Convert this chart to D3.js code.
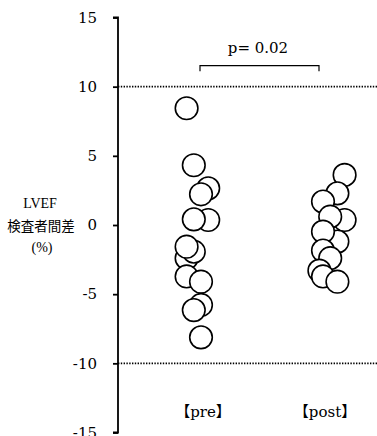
<!DOCTYPE html>
<html>
<head>
<meta charset="utf-8">
<script src="https://cdn.jsdelivr.net/npm/d3@7"></script>
<style>
  body { margin: 0; background: #fff; }
  svg { display: block; }
</style>
</head>
<body>
<div id="chart"></div>
<script>
// groups and tick labels
const groups = ['pre', 'post'];
const groupLabels = ['【pre】', '【post】'];
const yTicks = [15, 10, 5, 0, -5, -10, -15];
const refLines = [10, -10];
const pText = 'p= 0.02';

// values in draw order, with jitter lane for each point
const preValues = [8.44, 4.32, 2.65, 2.22, 0.36, 0.41, -2.4, -1.93, -1.57, -3.72, -4.1, -5.78, -6.15, -8.12];
const preLanes  = [-2, -1, 1, 0, 1, -1, -2, -1, -2, -2, 0, 0, -1, 0];
const postValues = [3.62, 2.29, 1.69, 0.36, 0.6, -1.2, -0.48, -1.85, -2.4, -3.3, -3.72, -4.1];
const postLanes  = [3, 2, 0, 3, 1, 2, 0, 0, 1, -0.5, 0, 2];

const width = 377, height = 436;
const svg = d3.select('#chart').append('svg')
  .attr('width', width)
  .attr('height', height);

const y = d3.scaleLinear().domain([-15, 15]).range([432.5, 17.5]);
const x = d3.scalePoint().domain(groups).range([201, 323]);
const lane = d3.scaleLinear().domain([0, 1]).range([0, 7.2]);
const axisX = 118;

// dotted reference lines
svg.selectAll('.ref')
  .data(refLines)
  .enter()
  .append('line')
  .attr('x1', axisX)
  .attr('x2', width)
  .attr('y1', d => y(d))
  .attr('y2', d => y(d))
  .attr('stroke', '#000')
  .attr('stroke-width', 1.6)
  .attr('stroke-dasharray', '1.4,1.4');

// y axis
const yAxis = d3.axisLeft(y).tickValues(yTicks).tickSize(5).tickPadding(16)
  .tickFormat(d => d);
const gy = svg.append('g')
  .attr('transform', `translate(${axisX},0)`)
  .call(yAxis);
gy.select('.domain').attr('d', `M-5,${y(15)}H0V${y(-15)}H-5`).attr('stroke-width', 1.8);
gy.selectAll('.tick line').attr('stroke-width', 1.8);
gy.selectAll('.tick text')
  .attr('font-family', '"DejaVu Serif", serif')
  .attr('font-size', 15)
  .attr('fill', '#000');

// y axis title
const title = svg.append('text')
  .attr('text-anchor', 'middle')
  .attr('fill', '#000');
title.append('tspan').attr('x', 40).attr('y', 208)
  .attr('font-family', '"Liberation Serif", serif').attr('font-size', 14).text('LVEF');
title.append('tspan').attr('x', 41).attr('y', 231)
  .attr('font-family', '"Noto Sans CJK JP", sans-serif').attr('font-size', 13.5).text('検査者間差');
title.append('tspan').attr('x', 42).attr('y', 252)
  .attr('font-family', '"Liberation Serif", serif').attr('font-size', 14).text('(%)');

// significance bracket
const bY = 65.7;
svg.append('path')
  .attr('d', `M${x('pre') - 1},${bY + 5.5}V${bY}H${x('post') - 4}V${bY + 5.5}`)
  .attr('fill', 'none')
  .attr('stroke', '#000')
  .attr('stroke-width', 1.2);
svg.append('text')
  .attr('x', (x('pre') + x('post')) / 2 - 4)
  .attr('y', 52.5)
  .attr('text-anchor', 'middle')
  .attr('font-family', '"DejaVu Serif", serif')
  .attr('font-size', 15)
  .text(pText);

// points
const points = [];
preValues.forEach((v, i) => points.push({ group: 'pre', value: v, lane: preLanes[i] }));
postValues.forEach((v, i) => points.push({ group: 'post', value: v, lane: postLanes[i] }));

svg.selectAll('circle')
  .data(points)
  .enter()
  .append('circle')
  .attr('cx', d => x(d.group) + lane(d.lane))
  .attr('cy', d => y(d.value))
  .attr('r', 11.3)
  .attr('fill', '#fff')
  .attr('stroke', '#000')
  .attr('stroke-width', 1.6);

// group labels
svg.selectAll('.glabel')
  .data(groups)
  .enter()
  .append('text')
  .attr('x', d => x(d) + 2)
  .attr('y', 417)
  .attr('text-anchor', 'middle')
  .attr('font-family', '"DejaVu Serif", "Noto Sans CJK JP", serif')
  .attr('font-size', 15)
  .text((d, i) => groupLabels[i]);
</script>
</body>
</html>
